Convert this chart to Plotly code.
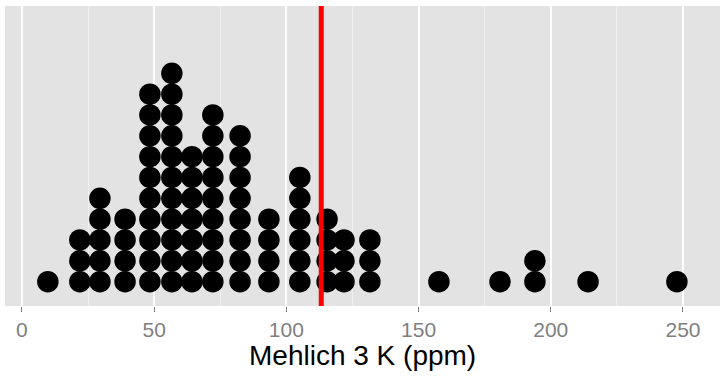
import plotly.graph_objects as go

# Dot columns (bin centres, ppm) and number of stacked dots in each
bin_centers = [9.8, 21.9, 29.5, 39.0, 48.4, 56.7, 64.3, 72.2, 82.5, 93.4,
               105.1, 115.4, 121.8, 131.6, 157.7, 180.8, 194.0, 214.1, 247.7]
bin_counts = [1, 3, 5, 4, 10, 11, 7, 9, 8, 4,
              6, 4, 3, 3, 1, 1, 2, 1, 1]
reference_value = 113.2
tick_values = [0, 50, 100, 150, 200, 250]
tick_labels = ["0", "50", "100", "150", "200", "250"]
x_title = "Mehlich 3 K (ppm)"

xs, ys = [], []
for c, n in zip(bin_centers, bin_counts):
    for k in range(n):
        xs.append(c)
        ys.append(k)

fig = go.Figure()
fig.add_trace(go.Scatter(
    x=xs, y=ys, mode="markers",
    marker=dict(size=21.5, color="black", line=dict(width=0)),
    hoverinfo="x", showlegend=False,
))

fig.add_shape(type="line", xref="x", yref="paper",
              x0=reference_value, x1=reference_value, y0=0, y1=1,
              line=dict(color="#ff0000", width=5), layer="above")

font_family = "Liberation Sans, Arial, sans-serif"

# axis title placed as a text annotation below the tick labels
fig.add_annotation(text=x_title, xref="paper", yref="paper", x=0.5, y=0,
                   xanchor="center", yanchor="middle", yshift=-49,
                   showarrow=False,
                   font=dict(size=28, color="black", family=font_family))

fig.update_layout(
    width=720, height=378,
    margin=dict(l=5, r=0, t=6, b=72),
    paper_bgcolor="white",
    plot_bgcolor="#e3e3e3",
    font=dict(family=font_family),
    xaxis=dict(
        automargin=False,
        range=[-6.4, 264.0],
        tickvals=tick_values, ticktext=tick_labels,
        tickfont=dict(size=21, color="#7f7f7f", family=font_family),
        ticks="outside", ticklen=5, tickwidth=1.2, tickcolor="#7f7f7f",
        showgrid=True, gridcolor="white", gridwidth=1.6,
        minor=dict(dtick=25, tick0=0, showgrid=True, gridcolor="#f0f0f0",
                   gridwidth=0.8, ticks=""),
        zeroline=False, showline=False,
    ),
    yaxis=dict(
        automargin=False,
        range=[-1.17, 13.23],
        showgrid=False, zeroline=False, showticklabels=False, ticks="",
        showline=False,
    ),
)

fig.write_html("out.html", config={"displayModeBar": False},
               post_script="document.body.style.margin='0';document.body.style.padding='0';")
